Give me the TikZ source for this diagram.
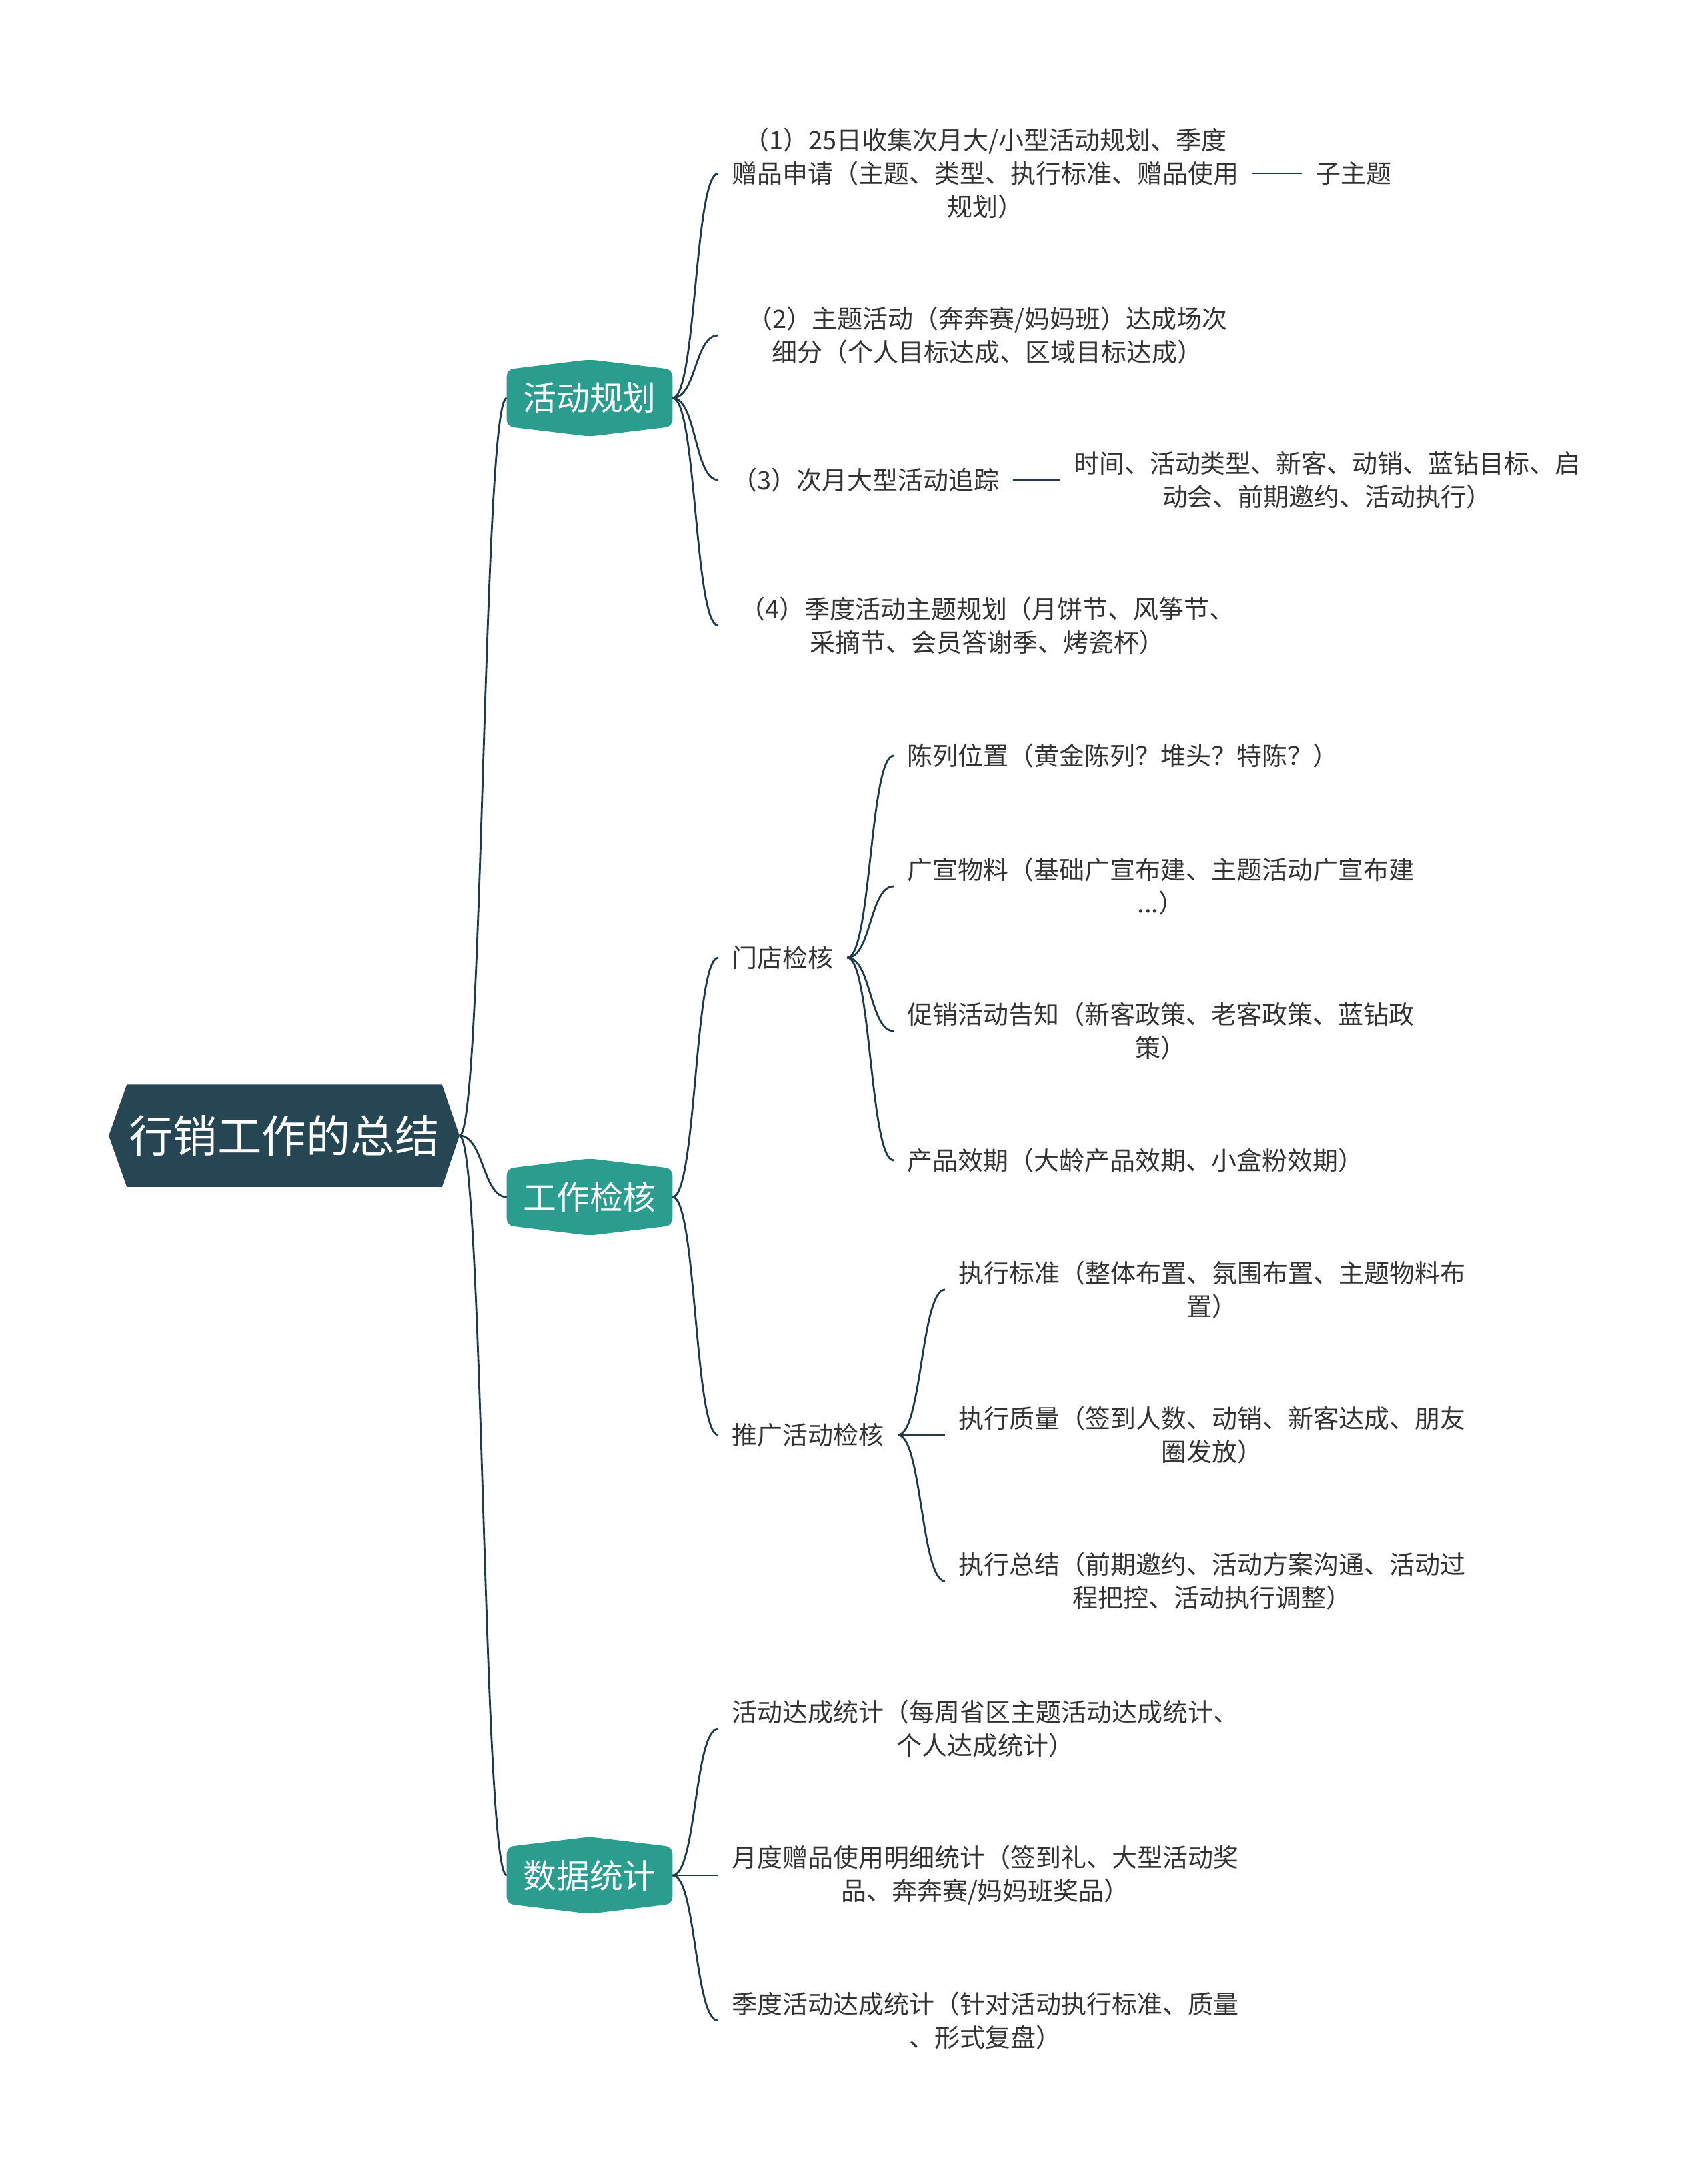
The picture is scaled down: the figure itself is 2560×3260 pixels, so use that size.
\documentclass[tikz,border=0pt]{standalone}
\usepackage{fontspec}
\setmainfont{Noto Sans CJK SC}
\usepackage{xcolor}
\usetikzlibrary{positioning,backgrounds}

\definecolor{rootfill}{HTML}{264653}
\definecolor{topicfill}{HTML}{2A9D8F}
\definecolor{linecol}{HTML}{1F3B4A}
\definecolor{leaftext}{HTML}{333333}

\begin{document}
\begin{tikzpicture}[x=0.01cm, y=-0.01cm, node distance=7mm,
    root/.style={minimum width=5.24cm, minimum height=1.52cm, inner sep=0pt, text=white, font=\fontsize{18.9pt}{22pt}\selectfont},
    topic/.style={minimum width=2.47cm, minimum height=1.14cm, inner sep=0pt, text=white, font=\fontsize{14.2pt}{17pt}\selectfont},
    leaf/.style={anchor=west, align=center, inner xsep=2mm, inner ysep=1mm, text=leaftext, font=\fontsize{10.8pt}{14.2pt}\selectfont},
    wide/.style={text width=7.65cm},
    conn/.style={draw=linecol, line width=0.8pt},
    branch/.style={to path={.. controls +(3.6mm,0) and +(-3.6mm,0) .. (\tikztotarget)}}]
    \useasboundingbox (0,0) rectangle (2560,3260);

    % centre and main topics
    \node[root] (root) at (426,1703) {行销工作的总结};
    \node[topic] (plan) at (884,597) {活动规划};
    \node[topic] (check) at (884,1795) {工作检核};
    \node[topic] (stats) at (884,2812) {数据统计};

    \begin{scope}[on background layer]
        \fill[rootfill] (root.west) -- ([xshift=2.7mm]root.north west) -- ([xshift=-2.6mm]root.north east)
            -- (root.east) -- ([xshift=-2.6mm]root.south east) -- ([xshift=2.7mm]root.south west) -- cycle;
        \foreach \t in {plan,check,stats}
            \fill[topicfill, rounded corners=1mm] (\t.north) -- ([yshift=-1.5mm]\t.north east) -- ([yshift=1.5mm]\t.south east)
                -- (\t.south) -- ([yshift=1.5mm]\t.south west) -- ([yshift=-1.5mm]\t.north west) -- cycle;
    \end{scope}

    % 活动规划
    \node[leaf] (plan1) at (1077,260) {（1）25日收集次月大/小型活动规划、季度\\赠品申请（主题、类型、执行标准、赠品使用\\规划）};
    \node[leaf, right=7.4mm of plan1] (plansub) {子主题};
    \node[leaf, wide] (plan2) at (1077,503) {（2）主题活动（奔奔赛/妈妈班）达成场次\\细分（个人目标达成、区域目标达成）};
    \node[leaf] (plan3) at (1077,720) {（3）次月大型活动追踪};
    \node[leaf, right=7mm of plan3] (plandet) {时间、活动类型、新客、动销、蓝钻目标、启\\动会、前期邀约、活动执行）};
    \node[leaf, wide] (plan4) at (1077,938) {（4）季度活动主题规划（月饼节、风筝节、\\采摘节、会员答谢季、烤瓷杯）};

    % 工作检核
    \node[leaf] (store) at (1077,1436) {门店检核};
    \node[leaf] (promo) at (1077,2152) {推广活动检核};
    \node[leaf] (store1) at (1340,1133) {陈列位置（黄金陈列？堆头？特陈？）};
    \node[leaf] (store2) at (1340,1329) {广宣物料（基础广宣布建、主题活动广宣布建\\...）};
    \node[leaf] (store3) at (1340,1546) {促销活动告知（新客政策、老客政策、蓝钻政\\策）};
    \node[leaf] (store4) at (1340,1740) {产品效期（大龄产品效期、小盒粉效期）};
    \node[leaf] (promo1) at (1417,1934) {执行标准（整体布置、氛围布置、主题物料布\\置）};
    \node[leaf] (promo2) at (1417,2152) {执行质量（签到人数、动销、新客达成、朋友\\圈发放）};
    \node[leaf] (promo3) at (1417,2371) {执行总结（前期邀约、活动方案沟通、活动过\\程把控、活动执行调整）};

    % 数据统计
    \node[leaf] (stats1) at (1077,2592) {活动达成统计（每周省区主题活动达成统计、\\个人达成统计）};
    \node[leaf] (stats2) at (1077,2812) {月度赠品使用明细统计（签到礼、大型活动奖\\品、奔奔赛/妈妈班奖品）};
    \node[leaf] (stats3) at (1077,3030) {季度活动达成统计（针对活动执行标准、质量\\、形式复盘）};

    % connectors
    \foreach \k in {plan,check,stats}
        \draw[conn] (root.east) to[branch] (\k.west);
    \foreach \k in {plan1,plan2,plan3,plan4}
        \draw[conn] (plan.east) to[branch] (\k.west);
    \foreach \k in {store,promo}
        \draw[conn] (check.east) to[branch] (\k.west);
    \foreach \k in {store1,store2,store3,store4}
        \draw[conn] (store.east) to[branch] (\k.west);
    \foreach \k in {promo1,promo2,promo3}
        \draw[conn] (promo.east) to[branch] (\k.west);
    \foreach \k in {stats1,stats2,stats3}
        \draw[conn] (stats.east) to[branch] (\k.west);
    \draw[conn] (plan1) -- (plansub);
    \draw[conn] (plan3) -- (plandet);
\end{tikzpicture}
\end{document}
